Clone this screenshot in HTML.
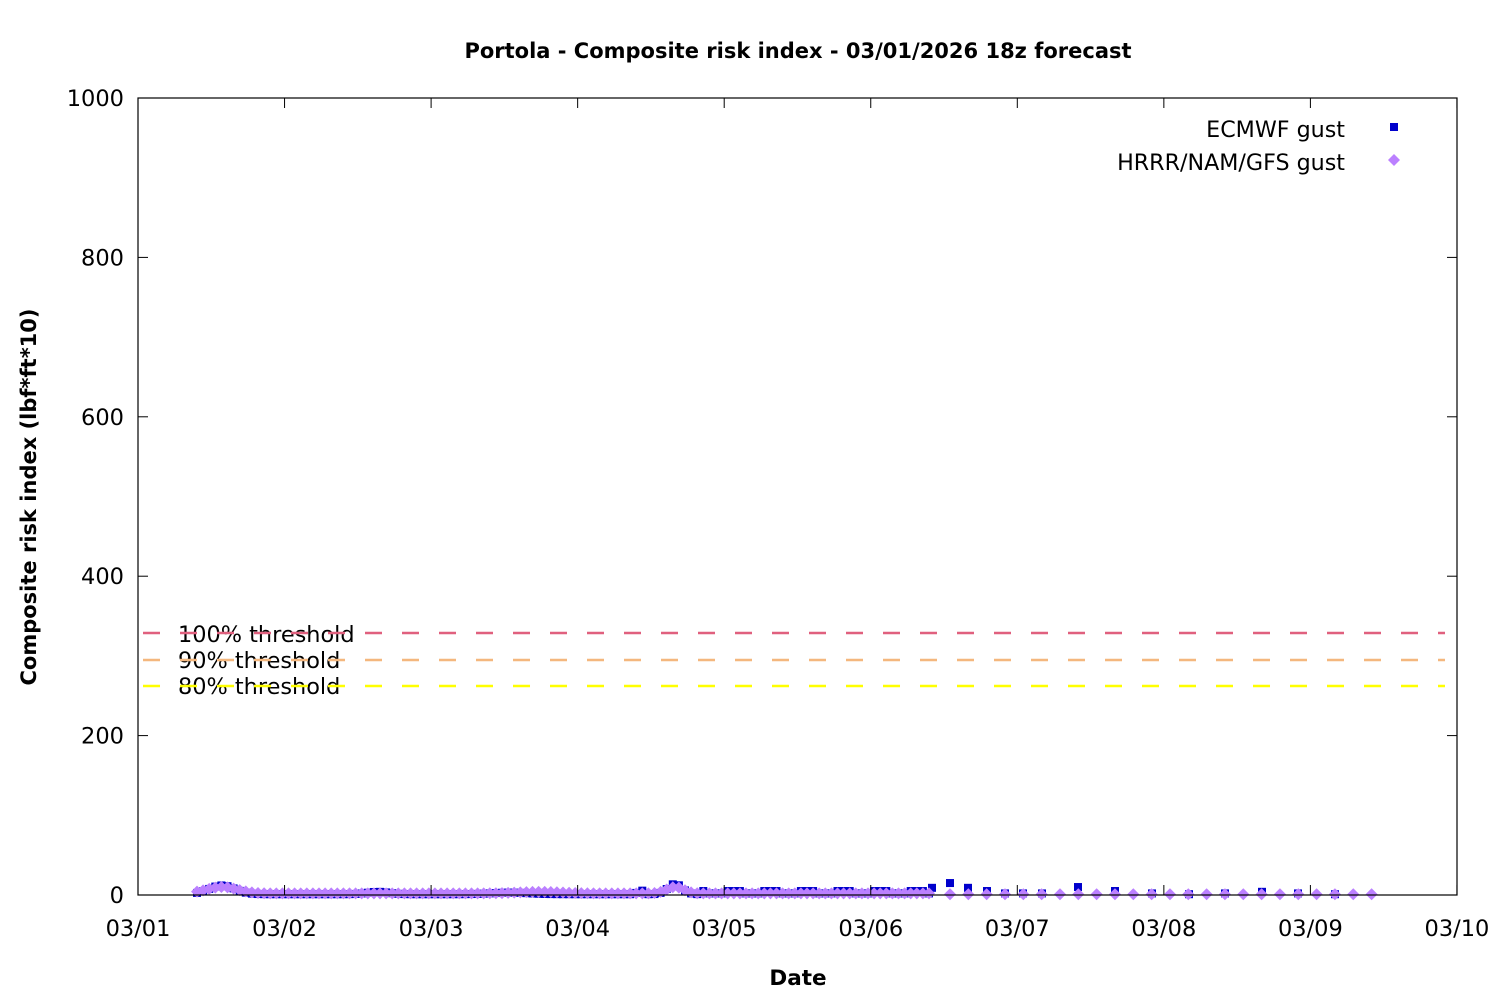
<!DOCTYPE html>
<html><head><meta charset="utf-8"><style>
html,body{margin:0;padding:0;background:#fff;}
svg{display:block;font-family:"DejaVu Sans","Liberation Sans",sans-serif;}
</style></head><body>
<svg id="s" width="1500" height="1000" xmlns="http://www.w3.org/2000/svg">
<rect width="1500" height="1000" fill="#fff"/>
<text x="798" y="58" text-anchor="middle" font-size="21" font-weight="bold">Portola - Composite risk index - 03/01/2026 18z forecast</text>
<g id="data"></g>
<rect x="138" y="98" width="1319" height="797" fill="none" stroke="#000" stroke-width="1.2"/>
<g id="ticks" stroke="#000" stroke-width="1"></g>
<g font-size="22.5" text-anchor="end" id="ylab"></g>
<g font-size="22.5" text-anchor="middle" id="xlab"></g>
<text x="798" y="985" text-anchor="middle" font-size="21.5" font-weight="bold">Date</text>
<text transform="translate(36,497) rotate(-90)" text-anchor="middle" font-size="21" font-weight="bold">Composite risk index (lbf*ft*10)</text>
<g font-size="22.4">
<text x="178" y="642">100% threshold</text>
<text x="178" y="668">90% threshold</text>
<text x="178" y="694">80% threshold</text>
</g>
<g stroke-width="2.5" stroke-dasharray="17,20">
<line x1="143" y1="633" x2="1445" y2="633" stroke="#e0607e"/>
<line x1="143" y1="660" x2="1445" y2="660" stroke="#f4b77e"/>
<line x1="143" y1="686" x2="1445" y2="686" stroke="#ffff00"/>
</g>
<g font-size="22.2" text-anchor="end">
<text x="1345" y="137">ECMWF gust</text>
<text x="1345" y="170">HRRR/NAM/GFS gust</text>
</g>
<rect x="1390" y="123" width="8" height="8" fill="#0000cc"/>
<polygon points="1394,154 1400,160 1394,166 1388,160" fill="#bb80ff"/>
</svg>
<script>
var NS="http://www.w3.org/2000/svg";
function el(t,a,p){var e=document.createElementNS(NS,t);for(var k in a)e.setAttribute(k,a[k]);p.appendChild(e);return e;}
var tk=document.getElementById('ticks'),yl=document.getElementById('ylab'),xl=document.getElementById('xlab');
for(var i=0;i<=5;i++){var y=895-i*159.4;
 el('line',{x1:138,y1:y,x2:148,y2:y},tk);el('line',{x1:1447,y1:y,x2:1457,y2:y},tk);
 var t=el('text',{x:124,y:y+8},yl);t.textContent=String(i*200);}
for(var d=0;d<=9;d++){var x=138+d*146.55;
 el('line',{x1:x,y1:895,x2:x,y2:885},tk);el('line',{x1:x,y1:98,x2:x,y2:108},tk);
 var t=el('text',{x:x,y:936},xl);t.textContent=(d==9)?'03/10':'03/0'+(d+1);}
var g=document.getElementById('data');
function bump(x,c,w,h){return h*Math.exp(-Math.pow((x-c)/w,2));}
function ec(x){return 1+bump(x,222,18,11)+bump(x,378,15,3)+bump(x,510,25,2)+bump(x,675,10,13)+bump(x,640,3,8)+(x>700&&x<930?((Math.round((x-700)/18)%2==0)?4:1):0);}
function hr(x){return 2+bump(x,222,22,8)+bump(x,540,30,2)+bump(x,675,12,8);}
var sq=[],dm=[];
for(var x=197;x<=930;x+=6.1){sq.push([x,ec(x)]);dm.push([x,hr(x)]);}
var late=[[932,9],[950,15],[968,9],[987,5],[1005,2],[1023,2],[1042,2],[1078,10],[1115,5],[1152,2],[1189,1],[1225,2],[1262,4],[1298,2],[1335,1]];
late.forEach(function(p){sq.push(p);});
for(var x=950;x<=1375;x+=18.33)dm.push([x,1]);
sq.forEach(function(p){var y=895-p[1]*0.797;el('rect',{x:p[0]-4,y:y-4,width:8,height:8,fill:'#0000cc'},g);});
dm.forEach(function(p){var x=p[0],y=895-p[1]*0.797;el('polygon',{points:(x)+','+(y-6)+' '+(x+6)+','+y+' '+x+','+(y+6)+' '+(x-6)+','+y,fill:'#bb80ff'},g);});
</script>
</body></html>
